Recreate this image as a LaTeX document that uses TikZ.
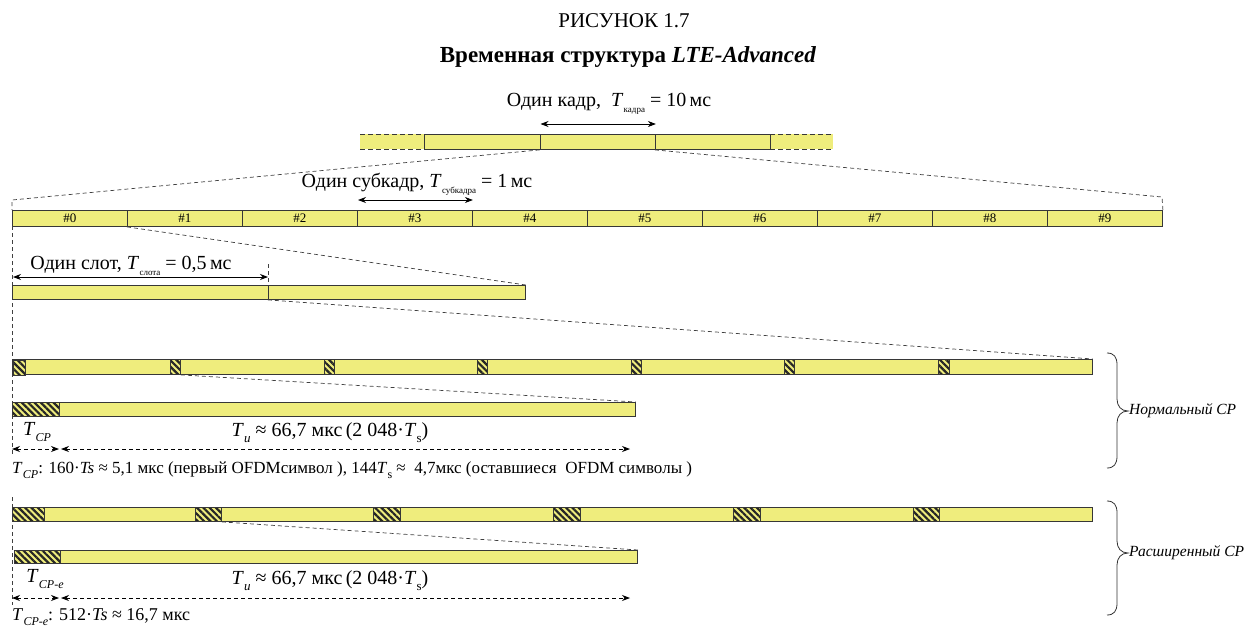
\documentclass[tikz,border=0pt]{standalone}
\usepackage{fontspec}
\setmainfont{Liberation Serif}
\usetikzlibrary{patterns.meta,arrows.meta,calc}
\definecolor{barY}{RGB}{239,237,125}
\definecolor{edgeC}{RGB}{55,55,55}
\newcommand\Tsb[2]{\textit{T}\kern0.3pt\raisebox{-0.3em}{\fontsize{#2}{#2}\selectfont #1}}
\tikzset{
  cell/.style={draw=edgeC,fill=barY,line width=0.9pt,inner sep=0pt,anchor=north west,font=\fontsize{13}{14}\selectfont},
  cpbox/.style={draw=edgeC,line width=0.9pt,inner sep=0pt,anchor=north west,
    preaction={fill=barY},pattern={Lines[angle=-45,distance=4.5pt,line width=2.2pt]},pattern color=black!85},
  conn/.style={draw=black!75,line width=0.7pt,dash pattern=on 4pt off 3pt},
  dimarr/.style={{Stealth[length=8pt,width=6pt]}-{Stealth[length=8pt,width=6pt]},line width=0.8pt},
  lbl/.style={font=\fontsize{20}{24}\selectfont,inner sep=0pt},
  ttl/.style={font=\fontsize{21}{25}\selectfont,inner sep=0pt},
  side/.style={font=\fontsize{15.5}{17}\selectfont\itshape,inner sep=0pt,anchor=west},
  brc/.style={draw=black!80,line width=0.8pt}
}
\begin{document}
\begin{tikzpicture}[x=1pt,y=-1pt]
\useasboundingbox (0,0) rectangle (1249,629);

% titles
\node[ttl] (t1) at (624,21) {РИСУНОК 1.7};
\node[ttl,font=\fontsize{23}{27}\selectfont\bfseries] (t2) at (628,57) {Временная структура \textit{LTE-Advanced}};

% frame row
\fill[barY] (360,134) rectangle (424,149);
\fill[barY] (770,134) rectangle (833,149);
\draw[edgeC,line width=0.9pt,dash pattern=on 5pt off 3pt] (360,134) -- (424,134) (360,149) -- (424,149);
\draw[edgeC,line width=0.9pt,dash pattern=on 5pt off 3pt] (770,134) -- (833,134) (770,149) -- (833,149);
\node[cell,minimum width=115.5pt,minimum height=15pt] (f1) at (424,134) {};
\node[cell,minimum width=115.5pt,minimum height=15pt] (f2) at (539.5,134) {};
\node[cell,minimum width=115pt,minimum height=15pt] (f3) at (655,134) {};
\node[lbl] (flab) at (609,104) {Один кадр, \ \Tsb{кадра}{9} = 10\,мс};
\draw[dimarr] ($(f2.north west)+(1,-10)$) -- ($(f2.north east)+(0,-10)$);

% subframe row
\foreach \i in {0,...,9}
  \node[cell,minimum width=115pt,minimum height=16pt] (sf\i) at (12+115*\i,210) {\#\i};
\node[lbl] (sflab) at (417,184) {Один субкадр, \Tsb{субкадра}{9} = 1\,мс};
\draw[dimarr] ($(sf3.north west)+(1,-10)$) -- ($(sf3.north east)+(0,-10)$);
\coordinate (fl) at (12,200);
\coordinate (fr) at (1162,197);
\draw[conn] (f2.south west) -- (fl) -- (sf0.north west);
\draw[conn] (f3.south west) -- (fr) -- (sf9.north east);

% slot row
\draw[conn] (12,226) -- (12,455);
\node[cell,minimum width=256pt,minimum height=14pt] (sl0) at (12,285) {};
\node[cell,minimum width=257pt,minimum height=14pt] (sl1) at (268,285) {};
\node[lbl] (sllab) at (131,266) {Один слот, \Tsb{слота}{9} = 0,5\,мс};
\coordinate (slt) at (268,264);
\draw[conn] (slt) -- (sl1.north west);
\draw[dimarr] ($(sl0.north west)+(1,-8)$) -- ($(sl1.north west)+(0,-8)$);
\draw[conn] (sf1.south west) -- (sl1.north east);

% normal CP row
\node[cell,minimum width=1080pt,minimum height=15pt] (nr) at (12,359) {};
\foreach \x/\w [count=\k from 0] in {12/12,170/10,324/10,477/10,631/10,784/10,938/11}
  \node[cpbox,minimum width=\w pt,minimum height=15pt] (nc\k) at (\x,359) {};
\draw[conn] (sl1.south west) -- (nr.north east);
\node[cell,minimum width=623pt,minimum height=14pt] (ns) at (12,402) {};
\node[cpbox,minimum width=47pt,minimum height=14pt] (nsc) at (12,402) {};
\draw[conn] (nc1.south east) -- (ns.north east);
\node[lbl] (tcp) at (37,432) {\Tsb{\textit{CP}}{12}};
\node[lbl] (tu1) at (330,433) {\Tsb{\textit{u}}{13} ≈ 66,7 мкс\,(2 048·\Tsb{s}{13})};
\draw[dimarr,dash pattern=on 4pt off 3pt] (12,449) -- (59,449);
\draw[dimarr,dash pattern=on 4pt off 3pt] (61,449) -- (630,449);
\node[lbl,font=\fontsize{17}{20}\selectfont,anchor=west] (tcptxt) at (12,470)
  {\Tsb{\textit{CP}}{12}: 160·\textit{Ts} ≈ 5,1 мкс (первый OFDMсимвол ), 144\Tsb{s}{12} ≈ \ 4,7мкс (оставшиеся \ OFDM символы )};

% extended CP row
\draw[conn] (12,497) -- (12,605);
\node[cell,minimum width=1080pt,minimum height=14pt] (er) at (12,507) {};
\foreach \x/\w [count=\k from 0] in {12/32,195/26,373/27,553/27,733/27,913/26}
  \node[cpbox,minimum width=\w pt,minimum height=14pt] (ec\k) at (\x,507) {};
\node[cell,minimum width=623pt,minimum height=13pt] (es) at (14,550) {};
\node[cpbox,minimum width=46pt,minimum height=13pt] (esc) at (14,550) {};
\draw[conn] (ec1.south east) -- (es.north east);
\node[lbl] (tcpe) at (45,579) {\Tsb{\textit{CP-e}}{12}};
\node[lbl] (tu2) at (330,581) {\Tsb{\textit{u}}{13} ≈ 66,7 мкс\,(2 048·\Tsb{s}{13})};
\draw[dimarr,dash pattern=on 4pt off 3pt] (12,598) -- (59,598);
\draw[dimarr,dash pattern=on 4pt off 3pt] (61,598) -- (630,598);
\node[lbl,font=\fontsize{18}{20}\selectfont,anchor=west] (tcpetxt) at (12,617)
  {\Tsb{\textit{CP-e}}{12}: 512·\textit{Ts} ≈ 16,7 мкс};

% braces
\draw[brc] (1107,353) .. controls (1114,353) and (1117,357) .. (1117,365) -- (1117,399)
  .. controls (1117,406) and (1121,411) .. (1128,411)
  .. controls (1121,411) and (1117,416) .. (1117,423) -- (1117,456)
  .. controls (1117,464) and (1114,468) .. (1107,468);
\node[side] (nl) at (1129,411) {Нормальный CP};
\draw[brc] (1107,501) .. controls (1114,501) and (1117,505) .. (1117,513) -- (1117,541)
  .. controls (1117,548) and (1121,553) .. (1128,553)
  .. controls (1121,553) and (1117,558) .. (1117,565) -- (1117,603)
  .. controls (1117,611) and (1114,615) .. (1107,615);
\node[side] (el) at (1129,553) {Расширенный CP};
\end{tikzpicture}
\end{document}
